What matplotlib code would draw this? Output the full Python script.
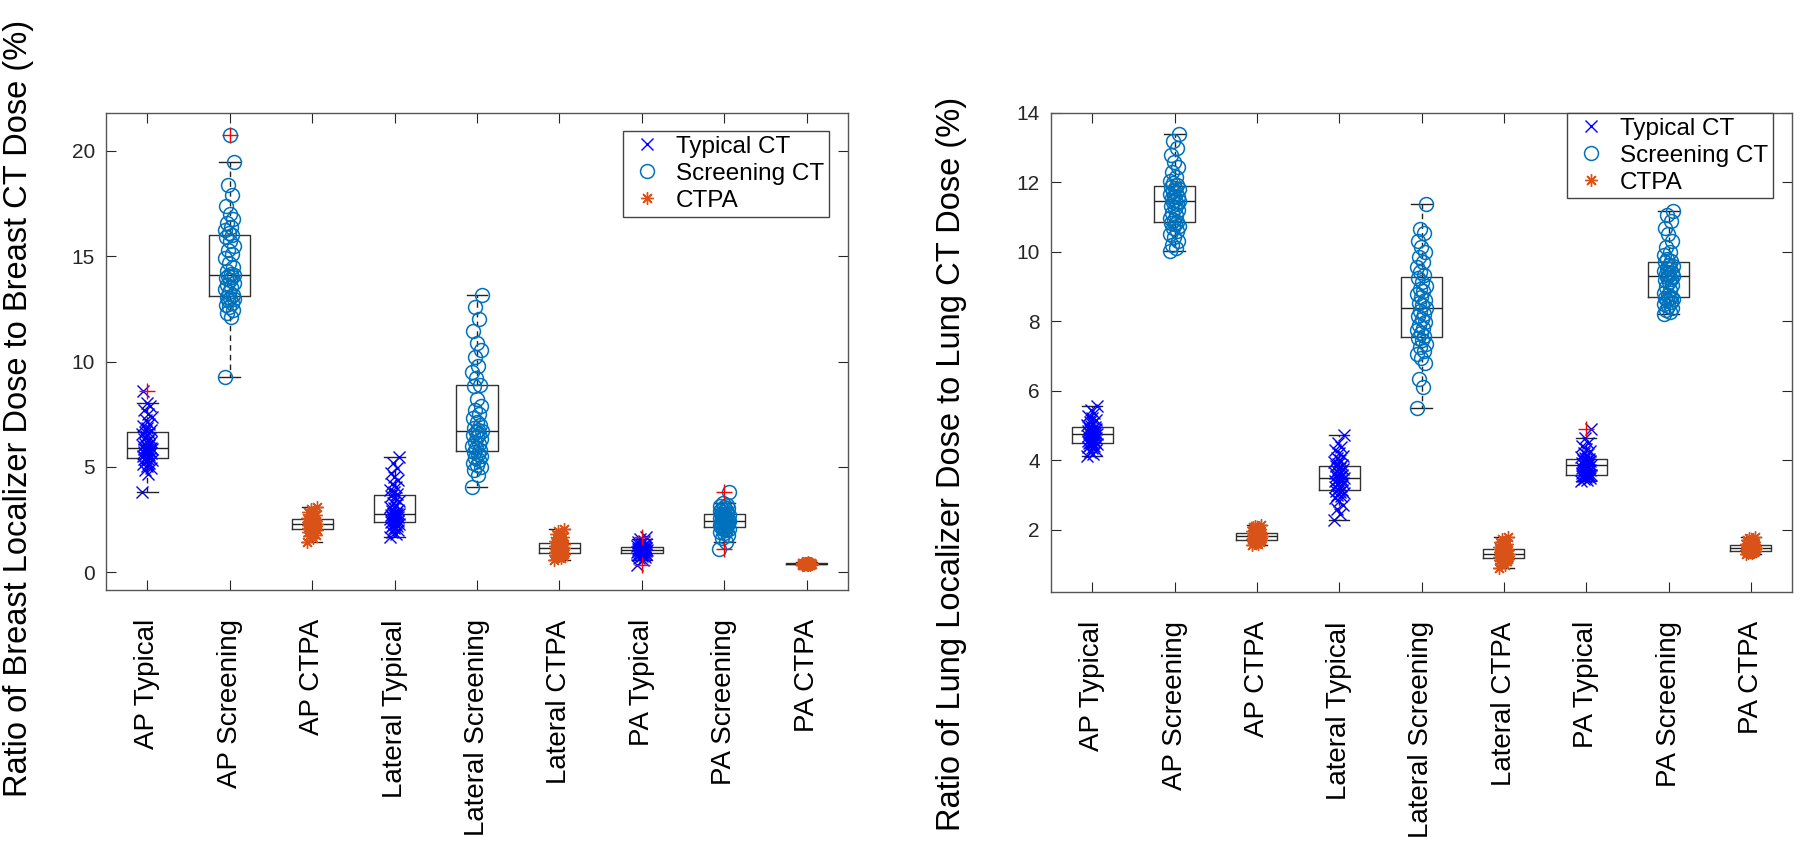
import numpy as np
import matplotlib.pyplot as plt
from matplotlib.lines import Line2D


CATEGORIES = [
    "AP Typical", "AP Screening", "AP CTPA",
    "Lateral Typical", "Lateral Screening", "Lateral CTPA",
    "PA Typical", "PA Screening", "PA CTPA",
]
PROTOCOLS = ["Typical CT", "Screening CT", "CTPA"]

# breast localizer dose / breast CT dose (%)
breast_ap_typical = [3.82, 4.65, 4.85, 4.95, 5.05, 5.12, 5.2, 5.26, 5.31, 5.35, 5.38, 5.4,
                     5.44, 5.5, 5.55, 5.6, 5.64, 5.68, 5.72, 5.76, 5.8, 5.83, 5.83, 5.86,
                     5.9, 5.95, 6.0, 6.05, 6.1, 6.16, 6.22, 6.3, 6.38, 6.46, 6.55, 6.62,
                     6.66, 6.75, 6.85, 6.95, 7.05, 7.2, 7.35, 7.5, 7.7, 7.9, 8.05, 8.6]
breast_ap_screening = [9.26, 12.1, 12.3, 12.45, 12.6, 12.7, 12.8, 12.9, 12.95, 13.0, 13.05,
                       13.15, 13.3, 13.45, 13.55, 13.65, 13.75, 13.85, 13.95, 14.0, 14.05,
                       14.1, 14.15, 14.3, 14.5, 14.7, 14.9, 15.1, 15.3, 15.5, 15.7, 15.9,
                       16.0, 16.1, 16.25, 16.4, 16.6, 16.75, 17.0, 17.4, 17.9, 18.4, 19.45,
                       20.76]
breast_ap_ctpa = [1.45, 1.6, 1.7, 1.78, 1.85, 1.9, 1.94, 1.97, 2.0, 2.02, 2.03, 2.05, 2.08,
                  2.1, 2.13, 2.16, 2.19, 2.21, 2.24, 2.26, 2.27, 2.28, 2.29, 2.31, 2.33,
                  2.35, 2.37, 2.4, 2.42, 2.45, 2.48, 2.5, 2.51, 2.53, 2.57, 2.62, 2.67,
                  2.72, 2.78, 2.85, 2.92, 3.0, 3.08]
breast_lat_typical = [1.69, 1.8, 1.9, 2.0, 2.08, 2.15, 2.2, 2.25, 2.3, 2.34, 2.37, 2.41,
                      2.45, 2.5, 2.55, 2.6, 2.64, 2.68, 2.72, 2.75, 2.77, 2.78, 2.82, 2.88,
                      2.95, 3.02, 3.1, 3.18, 3.28, 3.38, 3.5, 3.62, 3.7, 3.8, 3.92, 4.05,
                      4.2, 4.35, 4.5, 4.7, 4.95, 5.2, 5.47]
breast_lat_screening = [4.06, 4.6, 4.85, 5.0, 5.1, 5.2, 5.3, 5.4, 5.5, 5.6, 5.7, 5.8, 5.9,
                        6.0, 6.1, 6.2, 6.3, 6.4, 6.5, 6.58, 6.65, 6.69, 6.75, 6.85, 7.0,
                        7.15, 7.3, 7.5, 7.7, 7.9, 8.2, 8.85, 8.9, 9.2, 9.5, 9.8, 10.2,
                        10.55, 10.9, 11.45, 12.0, 12.6, 13.15]
breast_lat_ctpa = [0.58, 0.65, 0.7, 0.75, 0.78, 0.8, 0.83, 0.85, 0.87, 0.88, 0.89, 0.91,
                   0.93, 0.95, 0.98, 1.0, 1.03, 1.06, 1.08, 1.1, 1.12, 1.14, 1.16, 1.18,
                   1.2, 1.22, 1.25, 1.28, 1.31, 1.34, 1.37, 1.39, 1.41, 1.45, 1.5, 1.55,
                   1.6, 1.66, 1.72, 1.8, 1.88, 1.96, 2.05]
breast_pa_typical = [0.35, 0.58, 0.66, 0.72, 0.76, 0.8, 0.83, 0.85, 0.87, 0.88, 0.89, 0.91,
                     0.92, 0.94, 0.96, 0.97, 0.98, 0.99, 1.0, 1.01, 1.02, 1.03, 1.04, 1.05,
                     1.06, 1.08, 1.09, 1.1, 1.12, 1.13, 1.15, 1.16, 1.18, 1.2, 1.22, 1.25,
                     1.28, 1.32, 1.36, 1.41, 1.47, 1.55, 1.69]
breast_pa_screening = [1.09, 1.45, 1.6, 1.75, 1.85, 1.92, 1.98, 2.03, 2.07, 2.1, 2.13, 2.17,
                       2.2, 2.23, 2.27, 2.3, 2.33, 2.36, 2.39, 2.41, 2.43, 2.45, 2.48, 2.5,
                       2.53, 2.56, 2.59, 2.62, 2.65, 2.69, 2.72, 2.76, 2.8, 2.84, 2.88, 2.93,
                       2.98, 3.03, 3.08, 3.13, 3.2, 3.27, 3.82]
breast_pa_ctpa = [0.32, 0.33, 0.34, 0.35, 0.355, 0.36, 0.365, 0.37, 0.37, 0.372, 0.375,
                  0.378, 0.38, 0.382, 0.385, 0.387, 0.39, 0.39, 0.392, 0.394, 0.396, 0.398,
                  0.4, 0.402, 0.404, 0.406, 0.408, 0.41, 0.412, 0.415, 0.42, 0.425, 0.43,
                  0.44, 0.45, 0.46]

# lung localizer dose / lung CT dose (%)
lung_ap_typical = [4.12, 4.18, 4.24, 4.3, 4.35, 4.39, 4.42, 4.44, 4.46, 4.48, 4.49, 4.51,
                   4.53, 4.56, 4.59, 4.62, 4.65, 4.67, 4.69, 4.71, 4.73, 4.74, 4.75, 4.77,
                   4.79, 4.81, 4.83, 4.85, 4.87, 4.89, 4.91, 4.93, 4.95, 4.98, 5.02, 5.06,
                   5.1, 5.15, 5.2, 5.27, 5.35, 5.45, 5.55]
lung_ap_screening = [10.01, 10.1, 10.2, 10.3, 10.42, 10.52, 10.6, 10.68, 10.74, 10.8, 10.83,
                     10.87, 10.92, 10.98, 11.05, 11.12, 11.2, 11.27, 11.33, 11.39, 11.44,
                     11.47, 11.5, 11.54, 11.58, 11.62, 11.66, 11.7, 11.75, 11.8, 11.85,
                     11.88, 11.92, 11.97, 12.05, 12.15, 12.3, 12.45, 12.6, 12.8, 13.0,
                     13.2, 13.39]
lung_ap_ctpa = [1.55, 1.58, 1.61, 1.63, 1.65, 1.66, 1.67, 1.68, 1.685, 1.69, 1.69, 1.7,
                1.71, 1.72, 1.73, 1.74, 1.75, 1.76, 1.77, 1.78, 1.79, 1.8, 1.8, 1.81, 1.82,
                1.83, 1.84, 1.85, 1.86, 1.87, 1.88, 1.9, 1.92, 1.94, 1.96, 1.98, 2.0, 2.02,
                2.04, 2.06, 2.08, 2.1, 2.12]
lung_lat_typical = [2.28, 2.45, 2.6, 2.72, 2.82, 2.9, 2.96, 3.0, 3.05, 3.09, 3.12, 3.14,
                    3.18, 3.22, 3.26, 3.3, 3.34, 3.37, 3.4, 3.43, 3.46, 3.48, 3.51, 3.54,
                    3.57, 3.6, 3.63, 3.66, 3.7, 3.74, 3.78, 3.82, 3.86, 3.9, 3.95, 4.0,
                    4.06, 4.12, 4.2, 4.28, 4.38, 4.5, 4.72]
lung_lat_screening = [5.5, 6.1, 6.35, 6.8, 6.95, 7.05, 7.15, 7.25, 7.35, 7.45, 7.52, 7.58,
                      7.66, 7.74, 7.82, 7.9, 7.98, 8.06, 8.14, 8.22, 8.3, 8.39, 8.46, 8.54,
                      8.62, 8.7, 8.78, 8.86, 8.94, 9.02, 9.12, 9.24, 9.32, 9.42, 9.55, 9.7,
                      9.85, 10.0, 10.15, 10.3, 10.55, 10.65, 11.37]
lung_lat_ctpa = [0.9, 0.98, 1.04, 1.08, 1.1, 1.12, 1.14, 1.15, 1.16, 1.17, 1.18, 1.19, 1.2,
                 1.22, 1.23, 1.24, 1.25, 1.26, 1.27, 1.28, 1.29, 1.3, 1.31, 1.32, 1.33,
                 1.34, 1.35, 1.36, 1.38, 1.4, 1.42, 1.43, 1.45, 1.47, 1.5, 1.53, 1.56,
                 1.59, 1.62, 1.65, 1.69, 1.73, 1.78]
lung_pa_typical = [3.4, 3.43, 3.46, 3.49, 3.51, 3.53, 3.54, 3.55, 3.56, 3.57, 3.575, 3.585,
                   3.6, 3.62, 3.65, 3.68, 3.71, 3.74, 3.77, 3.8, 3.83, 3.85, 3.87, 3.89,
                   3.9, 3.92, 3.93, 3.95, 3.96, 3.98, 4.0, 4.01, 4.03, 4.06, 4.1, 4.15,
                   4.2, 4.26, 4.32, 4.4, 4.5, 4.64, 4.89]
lung_pa_screening = [8.21, 8.26, 8.32, 8.38, 8.44, 8.5, 8.55, 8.6, 8.64, 8.67, 8.68, 8.7,
                     8.75, 8.82, 8.9, 8.98, 9.05, 9.12, 9.18, 9.23, 9.27, 9.3, 9.33, 9.36,
                     9.39, 9.42, 9.46, 9.5, 9.54, 9.58, 9.63, 9.7, 9.74, 9.8, 9.9, 10.0,
                     10.15, 10.3, 10.5, 10.7, 10.9, 11.05, 11.18]
lung_pa_ctpa = [1.3, 1.32, 1.33, 1.34, 1.35, 1.36, 1.36, 1.37, 1.37, 1.38, 1.38, 1.39, 1.4,
                1.41, 1.42, 1.43, 1.43, 1.44, 1.45, 1.45, 1.46, 1.46, 1.47, 1.48, 1.48,
                1.49, 1.5, 1.51, 1.52, 1.53, 1.54, 1.54, 1.55, 1.56, 1.58, 1.6, 1.62, 1.64,
                1.66, 1.69, 1.72, 1.75, 1.78]

BREAST_DATA = [
    breast_ap_typical, breast_ap_screening, breast_ap_ctpa,
    breast_lat_typical, breast_lat_screening, breast_lat_ctpa,
    breast_pa_typical, breast_pa_screening, breast_pa_ctpa,
]
LUNG_DATA = [
    lung_ap_typical, lung_ap_screening, lung_ap_ctpa,
    lung_lat_typical, lung_lat_screening, lung_lat_ctpa,
    lung_pa_typical, lung_pa_screening, lung_pa_ctpa,
]

FONT = ["Liberation Sans", "DejaVu Sans"]
AX_COLOR = "#262626"
TYPICAL_COLOR = "#0000FF"
SCREENING_COLOR = "#0072BD"
CTPA_COLOR = "#D95319"

MARKERS = {
    "Typical CT": dict(marker="x", color=TYPICAL_COLOR, ms=8, mew=1.0, mfc="none"),
    "Screening CT": dict(marker="o", color=SCREENING_COLOR, ms=10, mew=1.1, mfc="none"),
    "CTPA": dict(marker=(8, 2, 0), color=CTPA_COLOR, ms=9, mew=1.0, mfc="none"),
}


def jitter(n, width=0.06):
    k = np.arange(n)
    return ((k * 0.618034) % 1.0 - 0.5) * 2 * width


def draw_panel(ax, data, ylabel, ylim, yticks, legend_anchor, label_xy):
    positions = np.arange(1, len(CATEGORIES) + 1)

    for i, values in enumerate(data):
        style = MARKERS[PROTOCOLS[i % 3]]
        ax.plot(
            positions[i] + jitter(len(values)),
            values,
            linestyle="none",
            zorder=3,
            **style
        )

    ax.boxplot(
        data,
        positions=positions,
        widths=0.5,
        capwidths=0.25,
        whis=1.5,
        boxprops=dict(color="#333333", linewidth=1.0),
        medianprops=dict(color="#222222", linewidth=1.0),
        whiskerprops=dict(color="#222222", linewidth=1.0, linestyle=(0, (4, 3))),
        capprops=dict(color="#222222", linewidth=1.0),
        flierprops=dict(marker="+", markeredgecolor="red", markersize=11,
                        markeredgewidth=1.0),
        zorder=2,
    )
    for line in ax.lines:
        if line.get_marker() == "+":
            line.set_zorder(4)

    ax.set_xlim(0.5, len(CATEGORIES) + 0.5)
    ax.set_ylim(*ylim)
    ax.set_yticks(yticks)
    ax.set_yticklabels([str(t) for t in yticks], fontsize=15, color=AX_COLOR,
                       family=FONT)
    ax.set_xticks(positions)
    ax.set_xticklabels(CATEGORIES, rotation=90, fontsize=20, family=FONT,
                       color="black", va="top", ha="center")

    ax.tick_params(axis="both", direction="in", length=7, width=0.8,
                   colors=AX_COLOR, top=True, right=True)
    ax.tick_params(axis="x", pad=21, labelcolor="black")
    ax.tick_params(axis="y", pad=8)
    for spine in ax.spines.values():
        spine.set_color("#555555")
        spine.set_linewidth(1.0)

    ax.set_ylabel(ylabel, fontsize=23.5, family=FONT, color="black")
    ax.yaxis.set_label_coords(*label_xy)

    handles = [
        Line2D([], [], linestyle="none", **MARKERS[name]) for name in PROTOCOLS
    ]
    leg = ax.legend(
        handles, PROTOCOLS,
        loc="upper right",
        bbox_to_anchor=legend_anchor,
        borderaxespad=0,
        fancybox=False,
        framealpha=1,
        edgecolor="#444444",
        prop=dict(family=FONT, size=17.5),
        handletextpad=0.4,
        labelspacing=0.2,
        borderpad=0.2,
        handlelength=1.6,
    )
    leg.get_frame().set_linewidth(1.0)


def main():
    fig = plt.figure(figsize=(18, 8.43), dpi=100)

    ax_breast = fig.add_axes([106 / 1800, 253 / 843, 742 / 1800, 477 / 843])
    ax_lung = fig.add_axes([1051 / 1800, 251 / 843, 741 / 1800, 479 / 843])

    draw_panel(
        ax_breast,
        BREAST_DATA,
        "Ratio of Breast Localizer Dose to Breast CT Dose (%)",
        ylim=(-0.85, 21.8),
        yticks=[0, 5, 10, 15, 20],
        legend_anchor=(0.9744, 0.962),
        label_xy=(-0.097, 0.38),
    )
    draw_panel(
        ax_lung,
        LUNG_DATA,
        "Ratio of Lung Localizer Dose to Lung CT Dose (%)",
        ylim=(0.2, 14),
        yticks=[2, 4, 6, 8, 10, 12, 14],
        legend_anchor=(0.9744, 1.0),
        label_xy=(-0.113, 0.268),
    )

    fig.savefig("out.png", dpi=100)
    plt.close(fig)


if __name__ == "__main__":
    main()
